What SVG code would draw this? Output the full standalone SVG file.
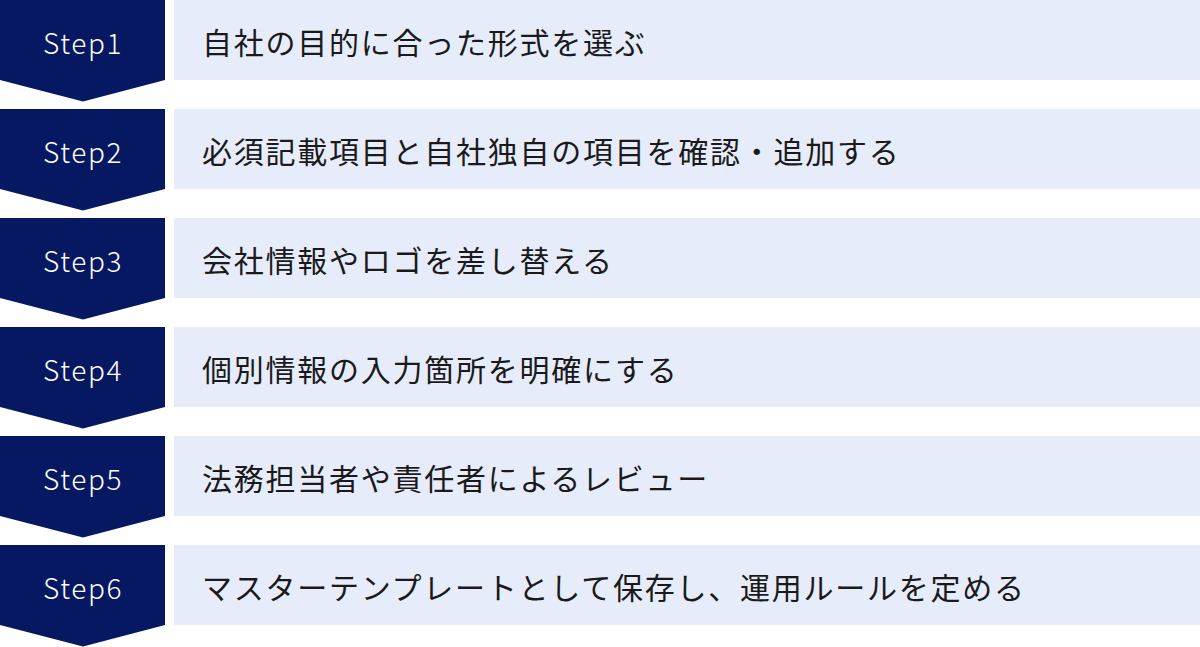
<svg xmlns="http://www.w3.org/2000/svg" width="1200" height="647" viewBox="0 0 1200 647">
<defs>
<style>
.chev{fill:#061862}
.box{fill:#e6ecf9}
.step{font-family:"Noto Sans CJK JP","Noto Sans",sans-serif;font-size:28px;font-weight:300;fill:#ffffff;letter-spacing:1.6px;text-anchor:middle;dominant-baseline:central}
.lbl{font-family:"Noto Sans CJK JP","Noto Sans",sans-serif;font-size:30px;font-weight:400;fill:#1a1a1a;letter-spacing:1.75px;dominant-baseline:central}
</style>
<polygon id="chevShape" points="0,0 165,0 165,80 83,101.5 0,80"/>
</defs>
<g id="connectors"></g>
<g id="step1">
<use href="#chevShape" class="chev" y="0"/>
<rect class="box" x="174" y="0" width="1026" height="80"/>
<text class="step" x="83" y="42">Step1</text>
<text class="lbl" x="202" y="41">自社の目的に合った形式を選ぶ</text>
</g>
<g id="step2">
<use href="#chevShape" class="chev" y="109"/>
<rect class="box" x="174" y="109" width="1026" height="80"/>
<text class="step" x="83" y="151">Step2</text>
<text class="lbl" x="202" y="150">必須記載項目と自社独自の項目を確認・追加する</text>
</g>
<g id="step3">
<use href="#chevShape" class="chev" y="218"/>
<rect class="box" x="174" y="218" width="1026" height="80"/>
<text class="step" x="83" y="260">Step3</text>
<text class="lbl" x="202" y="259">会社情報やロゴを差し替える</text>
</g>
<g id="step4">
<use href="#chevShape" class="chev" y="327"/>
<rect class="box" x="174" y="327" width="1026" height="80"/>
<text class="step" x="83" y="369">Step4</text>
<text class="lbl" x="202" y="368">個別情報の入力箇所を明確にする</text>
</g>
<g id="step5">
<use href="#chevShape" class="chev" y="436"/>
<rect class="box" x="174" y="436" width="1026" height="80"/>
<text class="step" x="83" y="478">Step5</text>
<text class="lbl" x="202" y="477">法務担当者や責任者によるレビュー</text>
</g>
<g id="step6">
<use href="#chevShape" class="chev" y="545"/>
<rect class="box" x="174" y="545" width="1026" height="80"/>
<text class="step" x="83" y="587">Step6</text>
<text class="lbl" x="202" y="586">マスターテンプレートとして保存し、運用ルールを定める</text>
</g>
</svg>
